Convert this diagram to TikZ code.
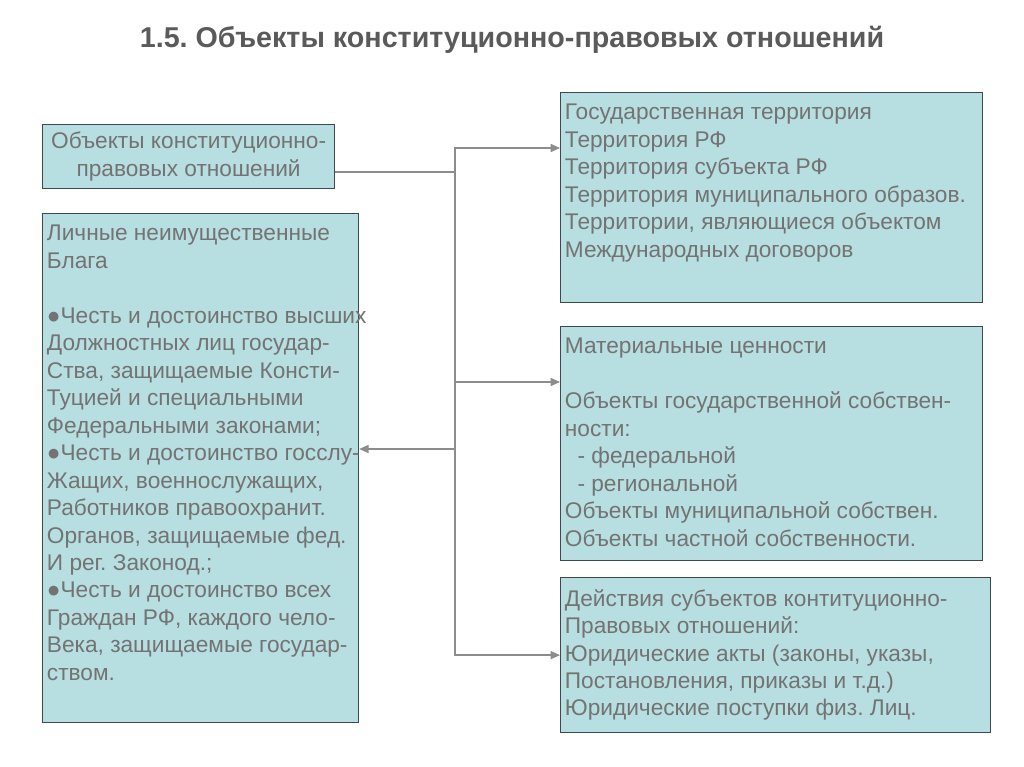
\documentclass[tikz,border=0pt]{standalone}
\usepackage{fontspec}
\setmainfont{Liberation Sans}
\usetikzlibrary{positioning,arrows.meta}
\definecolor{boxfill}{HTML}{B7DEE0}
\definecolor{boxline}{HTML}{3C4A4E}
\definecolor{txtgray}{HTML}{737373}
\definecolor{ttlgray}{HTML}{5A5A5A}
\definecolor{linkgray}{HTML}{8C8C8C}
\frenchspacing
\tikzset{
  objbox/.style={draw=boxline, fill=boxfill, line width=0.9pt, inner sep=0pt, anchor=north west},
  objtext/.style={text=txtgray, font=\fontsize{17}{20.6}\selectfont, align=left,
    anchor=north west, inner xsep=3.5pt, inner ysep=9pt},
  objlink/.style={draw=linkgray, line width=1.1pt},
  objarrow/.style={objlink, -{Triangle[length=7pt,width=6pt]}},
}

\begin{document}
\begin{tikzpicture}[x=0.75pt, y=-0.75pt]
  \useasboundingbox (0,0) rectangle (1024,767);
  \node[font=\bfseries\fontsize{21.5}{26}\selectfont, text=ttlgray] (title) at (512,40)
    {1.5. Объекты конституционно-правовых отношений};
  % левая часть
  \node[objbox, minimum width=219pt, minimum height=48pt, align=center, text=txtgray,
    font=\fontsize{17}{20.6}\selectfont] (obj) at (42,124)
    {Объекты конституционно-\\правовых отношений};
  \node[objbox, minimum width=237pt, minimum height=381.75pt] (lichn) at (42,213) {};
  \node[objtext] (lichntext) at (lichn.north west)
    {Личные неимущественные\\Блага\\[20.6pt]
     ●Честь и достоинство высших\\Должностных лиц государ-\\Ства, защищаемые Консти-\\
     Туцией и специальными\\Федеральными законами;\\●Честь и достоинство госслу-\\
     Жащих, военнослужащих,\\Работников правоохранит.\\Органов, защищаемые фед.\\
     И рег. Законод.;\\●Честь и достоинство всех\\Граждан РФ, каждого чело-\\
     Века, защищаемые государ-\\ством.};
  % правая часть
  \node[objbox, minimum width=316.5pt, minimum height=157.5pt] (terr) at (560,92) {};
  \node[objtext] (terrtext) at (terr.north west)
    {Государственная территория\\Территория РФ\\Территория субъекта РФ\\
     Территория муниципального образов.\\Территории, являющиеся объектом\\
     Международных договоров};
  \node[objbox, minimum width=316.5pt, minimum height=175.5pt] (mater) at (560,326) {};
  \node[objtext] (matertext) at (mater.north west)
    {Материальные ценности\\[20.6pt]Объекты государственной собствен-\\ности:\\
     \ \ - федеральной\\\ \ - региональной\\Объекты муниципальной собствен.\\
     Объекты частной собственности.};
  \node[objbox, minimum width=322.5pt, minimum height=116.25pt] (deistv) at (560,577) {};
  \node[objtext] (deistvtext) at (deistv.north west)
    {Действия субъектов контитуционно-\\Правовых отношений:\\
     Юридические акты (законы, указы,\\Постановления, приказы и т.д.)\\
     Юридические поступки физ. Лиц.};
  % связи
  \coordinate (split) at (455,172);
  \coordinate (toterr) at ([yshift=-42pt]terr.north west);
  \coordinate (tomater) at ([yshift=-42pt]mater.north west);
  \coordinate (tolichn) at ([yshift=-177pt]lichn.north east);
  \draw[objlink] (obj.east |- split) -- (split);
  \draw[objarrow] (split) |- (toterr);
  \draw[objarrow] (split) |- (tomater);
  \draw[objarrow] (split) |- (deistv.west);
  \draw[objarrow] (split |- tolichn) -- (tolichn);
\end{tikzpicture}
\end{document}
